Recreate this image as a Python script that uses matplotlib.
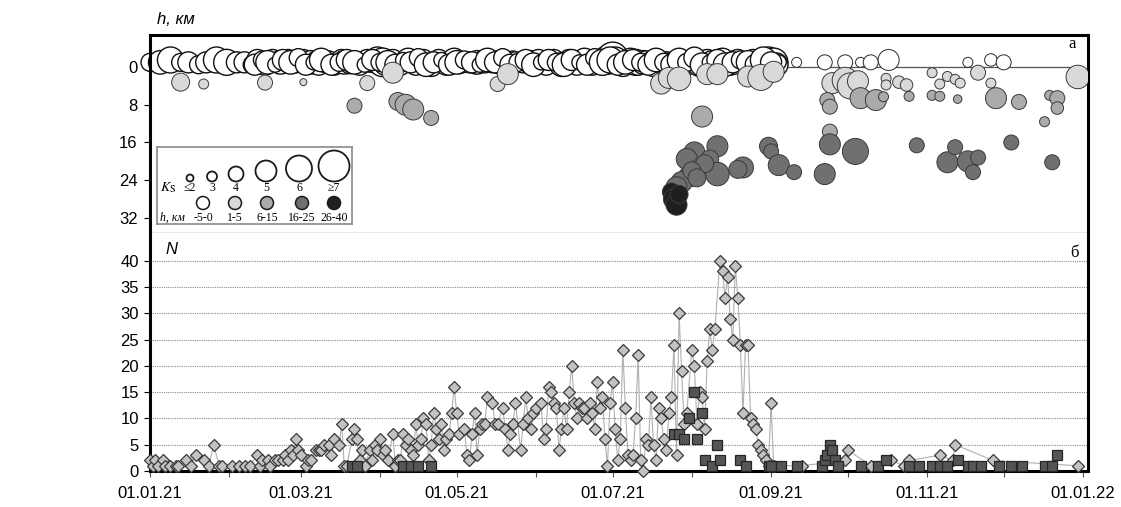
import numpy as np
import matplotlib.pyplot as plt
import matplotlib.dates as mdates

plt.rcParams['font.family'] = ['Liberation Sans', 'DejaVu Sans']

# ---------------- bottom panel: daily number of events N ----------------
# days counted from 01.01.21
all_day = [0, 1, 2, 3, 5, 6, 8, 10, 11, 14, 16, 18, 21, 23, 25, 27, 28, 32, 35, 37,
           39, 42, 43, 44, 46, 47, 49, 50, 52, 53, 54, 55, 56, 57, 58, 59, 61, 62, 63, 65,
           66, 67, 68, 70, 71, 72, 74, 75, 76, 77, 79, 80, 81, 82, 83, 84, 86, 87, 88, 89,
           90, 91, 92, 93, 95, 96, 97, 98, 99, 100, 101, 102, 103, 104, 105, 106, 107, 108, 109, 110,
           111, 112, 113, 114, 115, 116, 117, 118, 119, 120, 121, 123, 124, 125, 126, 127, 128, 129, 130, 131,
           132, 134, 135, 136, 138, 139, 140, 141, 142, 143, 145, 146, 147, 148, 149, 150, 151, 153, 154, 155,
           156, 157, 158, 159, 160, 161, 162, 163, 164, 165, 166, 167, 168, 169, 170, 171, 172, 173, 174, 175,
           176, 177, 178, 179, 180, 181, 182, 183, 184, 185, 186, 187, 188, 189, 190, 191, 192, 193, 194, 195,
           196, 197, 198, 199, 200, 201, 202, 203, 204, 205, 206, 207, 208, 209, 210, 212, 213, 214, 215, 216,
           217, 218, 219, 220, 221, 223, 224, 225, 226, 227, 228, 229, 230, 231, 232, 233, 234, 235, 236, 237,
           238, 239, 240, 241, 242, 243, 244, 255, 272, 273, 282, 290, 295, 297, 309, 314, 315, 330, 363]
all_n = [2, 1, 2, 1, 2, 1, 1, 1, 1, 2, 1, 3, 2, 1, 5, 1, 1, 1, 1, 1,
         1, 3, 1, 2, 2, 1, 2, 2, 2, 3, 2, 4, 3, 6, 4, 3, 1, 2, 2, 4,
         4, 4, 5, 5, 3, 6, 5, 9, 1, 1, 6, 8, 6, 2, 4, 1, 4, 2, 5, 4,
         6, 3, 4, 2, 7, 1, 2, 2, 7, 5, 6, 4, 3, 9, 5, 6, 10, 9, 2, 5,
         11, 8, 6, 9, 4, 6, 7, 11, 16, 11, 7, 8, 3, 2, 7, 11, 3, 8, 9, 9,
         14, 13, 9, 9, 12, 8, 4, 7, 9, 13, 4, 9, 14, 10, 8, 11, 12, 13, 6, 8,
         16, 15, 13, 12, 4, 8, 12, 8, 15, 20, 13, 10, 13, 12, 12, 10, 13, 11, 8, 17,
         12, 14, 6, 1, 13, 17, 8, 2, 6, 23, 12, 3, 2, 3, 10, 22, 2, 0, 6, 5,
         14, 5, 2, 12, 10, 6, 4, 11, 14, 24, 3, 30, 19, 9, 11, 23, 20, 9, 15, 14,
         8, 21, 27, 23, 27, 40, 38, 33, 37, 29, 25, 39, 33, 24, 11, 24, 24, 10, 9, 8,
         5, 4, 3, 2, 1, 13, 1, 1, 2, 4, 1, 2, 1, 2, 3, 2, 5, 2, 1]

# deep events (squares)
sq_day = [79, 81, 99, 102, 105, 110, 205, 207, 209, 211, 213, 214, 216, 217, 220, 222, 223, 231, 233, 242,
          243, 247, 253, 263, 264, 265, 266, 267, 268, 269, 278, 285, 288, 297, 301, 306, 309, 312, 316, 320,
          322, 325, 332, 337, 341, 350, 353, 355]
sq_n = [1, 1, 1, 1, 1, 1, 7, 7, 6, 10, 15, 6, 11, 2, 1, 5, 2, 2, 1, 1,
        1, 1, 1, 1, 2, 3, 5, 4, 2, 1, 1, 1, 2, 1, 1, 1, 1, 1, 2, 1,
        1, 1, 1, 1, 1, 1, 1, 3]

# ---------------- top panel: hypocentres (day, depth h km, class Ks) ----------------
band_day = [0, 4, 8, 12, 15, 19, 22, 26, 30, 34,
            37, 40, 42, 43, 45, 47, 48, 50, 51, 53,
            54, 56, 57, 59, 60, 62, 63, 65, 66, 68,
            69, 70, 72, 73, 75, 76, 78, 79, 81, 82,
            83, 85, 86, 88, 89, 91, 92, 94, 95, 97,
            98, 100, 101, 103, 104, 106, 107, 109, 110, 112,
            113, 115, 116, 118, 119, 121, 122, 124, 125, 127,
            128, 130, 131, 133, 134, 136, 137, 139, 140, 142,
            143, 145, 146, 148, 149, 151, 152, 154, 155, 157,
            158, 160, 161, 163, 164, 166, 167, 169, 170, 172,
            173, 175, 176, 178, 179, 181, 182, 184, 185, 187,
            188, 190, 191, 193, 194, 196, 197, 199, 200, 202,
            203, 205, 206, 208, 209, 211, 212, 214, 215, 217,
            218, 220, 221, 223, 224, 226, 227, 229, 230, 232,
            233, 235, 236, 238, 239, 241, 242, 244, 245, 246]
band_h = [-1, -1, -1.5, -1, -1, -0.5, -1, -1.5, -1, -1,
          -1, -0.5, -1.5, -1, -0.5, -1, -1.5, -0.5, -1, -1,
          -1.5, -0.5, -1, -1, -1.5, -0.5, -1, -1.5, -0.5, -1,
          -1, -1.5, -0.5, -1, -1.5, -1, -0.5, -1, -1.5, -0.5,
          -1, -1.5, -0.5, -1, -1.5, -1, -0.5, -1, -1.5, -1,
          -0.5, -1, -1.5, -1, -0.5, -1, -1.5, -1, -0.5, -1,
          -1.5, -1, -0.5, -1, -1.5, -0.5, -1, -1.5, -1, -0.5,
          -1, -1.5, -1, -0.5, -1, -1.5, -1, -0.5, -1, -1.5,
          -1, -0.5, -1, -1.5, -1, -0.5, -1.5, -1, -0.5, -1,
          -1.5, -1, -0.5, -1, -1.5, -1, -0.5, -1, -1.5, -1,
          -0.5, -1, -1.5, -1, -1.5, -2, -1.5, -1, -0.5, -1,
          -1.5, -1, -0.5, -1, -1.5, -1, -0.5, -1, -1.5, -1,
          -0.5, -1, -1.5, -1, -0.5, -1, -1.5, -1, -0.5, -1,
          -1.5, -1, -0.5, -1, -1.5, -1, -0.5, -1, -1.5, -1,
          -0.5, -1, -1.5, -1, -0.5, -1, -1.5, -1, -0.5, -1]
band_k = [4.5, 5.5, 6, 4.5, 5, 4.5, 5, 6, 6, 5,
          5, 4.5, 5, 4, 5, 4.5, 5, 4, 5.5, 4.5,
          5, 4, 5, 4.5, 5, 4, 5.5, 4.5, 5, 4,
          5, 4.5, 5, 4, 5, 5.5, 4.5, 5, 4, 5,
          4.5, 5, 4, 5, 6, 6.5, 5, 4.5, 5, 4,
          5, 4.5, 5.5, 4, 5, 4.5, 5, 4, 5.5, 4.5,
          5, 4, 5, 4.5, 5.5, 4.5, 5, 4, 5, 4.5,
          5.5, 4.5, 5, 4, 5, 4.5, 5.5, 4, 5, 4.5,
          5, 4, 5, 4.5, 5.5, 4, 5, 4.5, 5, 4,
          5, 4.5, 5.5, 4, 5, 4.5, 5, 4, 5.5, 4.5,
          5, 4.5, 5, 5.5, 6.5, 7, 6, 5, 5.5, 5,
          5.5, 6, 5, 5.5, 4.5, 5, 5.5, 5, 4.5, 5,
          5.5, 5, 4.5, 5, 5.5, 5, 4.5, 5, 5.5, 4.5,
          5, 5.5, 4.5, 5, 5.5, 4.5, 5, 5.5, 5, 4.5,
          5, 5.5, 5, 5.5, 6, 5.5, 6, 6.5, 5.5, 4]

# second layer of the dense shallow swarm (Feb - Aug)
band2_day = [41, 44, 46, 49, 52, 55, 58, 61, 64, 67, 71, 74, 77, 80, 84, 87, 90,
             93, 96, 99, 102, 105, 108, 111, 114, 117, 120, 123, 126, 129, 132, 135, 138, 141,
             144, 147, 150, 153, 156, 159, 162, 165, 168, 171, 174, 177, 180, 183, 186, 189, 192,
             195, 198, 201, 204, 207, 210, 213, 216, 219, 222, 225, 228, 231, 234, 237, 240, 243]
band2_h = [-0.5, -1.5, -1, -0.5, -1.5, -1, -2, -0.5, -1, -1.5, -0.5, -1, -1.5, -1, -0.5, -1.5, -1,
           -1, -0.5, -1.5, -1, -2, -0.5, -1, -1.5, -0.5, -1, -1.5, -1, -0.5, -1.5, -1, -2, -0.5,
           -1, -1.5, -0.5, -1, -1.5, -1, -0.5, -1.5, -1, -0.5, -2, -1, -1.5, -0.5, -1, -1.5, -1,
           -0.5, -1.5, -1, -0.5, -1.5, -1, -2, -0.5, -1, -1.5, -0.5, -1, -1.5, -1, -0.5, -1.5, -1]
band2_k = [5, 4.5, 5.5, 4, 5, 5.5, 4.5, 5, 4, 5.5, 5, 4.5, 5, 5.5, 4, 5, 4.5,
           5.5, 5, 4, 5, 4.5, 5.5, 5, 4, 5, 5.5, 4.5, 5, 4, 5.5, 5, 4.5, 5,
           4.5, 5, 5.5, 4, 5, 4.5, 5.5, 5, 4, 5, 4.5, 6, 6, 5, 5.5, 5, 4.5,
           5, 5.5, 4.5, 5, 5.5, 4.5, 5, 5.5, 4, 5, 5.5, 5, 4.5, 5.5, 5, 6, 5]

line_day = [253, 264, 272, 278, 282, 289, 320, 329, 334]
line_h = [-1, -1, -1, -1, -1, -1.5, -1, -1.5, -1]
line_k = [3, 4, 4, 3, 4, 5, 3, 3.5, 4]

shal_day = [12, 21, 45, 60, 85, 95, 136, 140, 200, 203, 207, 218, 222, 234, 239, 244,
            267, 272, 274, 277, 288, 288, 293, 296, 306, 309, 312, 315, 317, 324, 329, 363,
            80, 97, 100, 103, 110, 216, 265, 266, 278, 284, 287, 297, 306, 309, 316, 331,
            340, 352, 355, 355, 350, 266]
shal_h = [3.2, 3.6, 3.3, 3.2, 3.4, 1.2, 3.6, 1.5, 3.5, 2.3, 2.5, 1.5, 1.5, 2, 2.2, 1,
          3.4, 2.8, 4, 3, 2.4, 3.8, 3.2, 3.8, 1.2, 3.6, 2, 2.6, 3.4, 1.2, 3.4, 2.1,
          8.2, 7.3, 8, 9, 10.8, 10.5, 7, 8.4, 6.6, 7, 6.3, 6.2, 6, 6.2, 6.8, 6.6,
          7.4, 6, 6.6, 8.7, 11.6, 13.7]
shal_k = [4.5, 3, 4, 2, 4, 5, 4, 5, 5, 5, 5.5, 5, 5, 5, 6, 5,
          5, 6, 6, 5, 3, 3, 3.5, 3.5, 3, 3, 3, 3, 3, 4, 3, 5.5,
          4, 4.5, 5, 5, 4, 5, 4, 4, 5, 5, 3, 3, 3, 3, 2.5, 5,
          4, 3, 4, 3.5, 3, 4]

deep_day = [213, 222, 210, 219, 215, 222, 211, 208, 217, 212, 214, 206, 204, 205, 206, 207,
            232, 230, 242, 243, 246, 252, 264, 266, 276, 300, 312, 315, 320, 324, 322, 337, 353]
deep_h = [18.1, 16.8, 19.5, 19.5, 21.7, 22.7, 23.2, 24.4, 20.5, 22, 23.5, 25.5, 26.5, 28, 29.2, 27,
          21.3, 21.7, 16.8, 17.9, 20.8, 22.3, 22.7, 16.4, 17.9, 16.6, 20.2, 17, 20, 19.2, 22.3, 16, 20.2]
deep_k = [5, 5, 5, 4.5, 5, 5.5, 5, 5, 4.5, 4.5, 4.5, 5, 4.5, 5, 5, 4.5,
          5, 4.5, 4.5, 4, 5, 4, 5, 5, 6, 4, 5, 4, 5, 4, 4, 4, 4]

# legend classes
ks_vals = [2, 3, 4, 5, 6, 7]
ks_labels = ['≤2', '3', '4', '5', '6', '≥7']
ks_diam = [7, 10, 15, 21, 26, 31]          # circle diameter in px
h_labels = ['-5-0', '1-5', '6-15', '16-25', '26-40']
h_colors = ['#ffffff', '#d9d9d9', '#ababab', '#707070', '#1f1f1f']
h_upper = [0.5, 5.5, 15.5, 25.5, 99]

start = np.datetime64('2021-01-01')


def to_date(days):
    return start + np.array(days, dtype='timedelta64[D]')


def size(k):
    d = np.interp(k, ks_vals, ks_diam) * 0.72
    return d ** 2


def colour(h):
    return [h_colors[np.searchsorted(h_upper, v)] for v in h]


W, H = 1121, 507


def frac(l, t, r, b):
    return [l / W, 1 - b / H, (r - l) / W, (b - t) / H]


fig = plt.figure(figsize=(W / 100, H / 100), dpi=100)
ax1 = fig.add_axes(frac(150, 35, 1088, 233))
ax2 = fig.add_axes(frac(150, 233, 1088, 471), sharex=ax1)

xmin, xmax = start, start + np.timedelta64(367, 'D')

# ---- top panel ----
ax1.hlines(0, to_date([0])[0], to_date([364])[0], color='#555555', lw=0.9, zorder=1)
ax1.scatter(to_date(band_day), band_h, s=size(band_k), c=colour(band_h),
            edgecolors='#111111', linewidths=1.0, zorder=2, clip_on=False)
ax1.scatter(to_date(band2_day), band2_h, s=size(band2_k), c=colour(band2_h),
            edgecolors='#111111', linewidths=1.0, zorder=2)
ax1.scatter(to_date(line_day), line_h, s=size(line_k), c=colour(line_h),
            edgecolors='#2a2a2a', linewidths=0.7, zorder=2)
ax1.scatter(to_date(shal_day), shal_h, s=size(shal_k), c=colour(shal_h),
            edgecolors='#3a3a3a', linewidths=0.7, zorder=3)
ax1.scatter(to_date(deep_day), deep_h, s=size(deep_k), c=colour(deep_h),
            edgecolors='#3a3a3a', linewidths=0.7, zorder=3)
ax1.set_ylim(35.2, -6.8)
ax1.set_yticks([0, 8, 16, 24, 32])
ax1.tick_params(axis='y', length=4, width=0.8, labelsize=12, pad=5)
ax1.tick_params(axis='x', which='both', length=4, width=0.8, color='#555555', labelbottom=False)
for side in ['top', 'left', 'right']:
    ax1.spines[side].set_linewidth(2.2)
ax1.spines['bottom'].set_linewidth(0.9)
ax1.spines['bottom'].set_color('#555555')
ax1.text(0.983, 0.955, 'а', transform=ax1.transAxes, ha='center', va='center',
         fontsize=12, family=['Liberation Serif', 'DejaVu Serif'])
fig.text(157 / W, 1 - 20 / H, 'h, км', fontsize=12, style='italic', va='center')

# ---- bottom panel ----
ax2.plot(to_date(all_day), all_n, color='#b0b0b0', lw=0.8, zorder=2)
ax2.plot(to_date(all_day), all_n, 'D', ms=5.8, mfc='#c2c2c2', mec='#3a3a3a', mew=0.9,
         ls='none', zorder=3, clip_on=False)
ax2.plot(to_date(sq_day), sq_n, 's', ms=7, mfc='#555555', mec='#262626', mew=0.9,
         ls='none', zorder=4, clip_on=False)
ax2.set_ylim(0, 45.3)
ax2.set_yticks(range(0, 41, 5))
ax2.grid(axis='y', color='#8a8a8a', lw=0.8, ls=(0, (1, 1)))
ax2.set_axisbelow(True)
ax2.tick_params(axis='y', length=4, width=0.8, labelsize=12, pad=4)
ax2.xaxis.set_major_locator(mdates.MonthLocator(bymonth=[1, 3, 5, 7, 9, 11]))
ax2.xaxis.set_minor_locator(mdates.MonthLocator())
ax2.xaxis.set_major_formatter(mdates.DateFormatter('%d.%m.%y'))
ax2.tick_params(axis='x', which='both', length=4, width=0.8, color='#555555',
                labelsize=12, pad=7, labelbottom=True)
ax2.spines['top'].set_visible(False)
for side in ['bottom', 'left', 'right']:
    ax2.spines[side].set_linewidth(2.2)
ax2.set_xlim(xmin, xmax)
ax2.text(0.016, 0.93, 'N', transform=ax2.transAxes, ha='left', va='center',
         fontsize=12, style='italic')
ax2.text(0.986, 0.915, 'б', transform=ax2.transAxes, ha='center', va='center',
         fontsize=12, family=['Liberation Serif', 'DejaVu Serif'])

# ---- legend box ----
leg = fig.add_axes(frac(157, 147, 352, 224))
leg.set_xlim(0, 195)
leg.set_ylim(77, 0)
leg.set_xticks([])
leg.set_yticks([])
for s in leg.spines.values():
    s.set_color('#8a8a8a')
    s.set_linewidth(1.2)
serif = ['Liberation Serif', 'DejaVu Serif']
ks_x = [33, 55, 79, 109, 142, 177]
leg.scatter(ks_x, 34.5 - np.array(ks_diam) / 2, s=size(ks_vals), facecolor='white',
            edgecolors='#1a1a1a', linewidths=1.3)
for x, lab in zip(ks_x, ks_labels):
    leg.text(x, 41, lab, ha='center', va='center', fontsize=8.5, family=serif)
leg.text(3, 41, r'$K_{\rm S}$', ha='left', va='center', fontsize=10, math_fontfamily='stix')
h_x = [46, 78, 110, 145, 177]
leg.scatter(h_x, [56] * len(h_x), s=size([3.6] * len(h_x)), c=h_colors,
            edgecolors='#1a1a1a', linewidths=1.1)
for x, lab in zip(h_x, h_labels):
    leg.text(x, 71, lab, ha='center', va='center', fontsize=8.5, family=serif)
leg.text(3, 71, 'h, км', ha='left', va='center', fontsize=8.5, style='italic', family=serif)

fig.savefig('out.png', dpi=100)
